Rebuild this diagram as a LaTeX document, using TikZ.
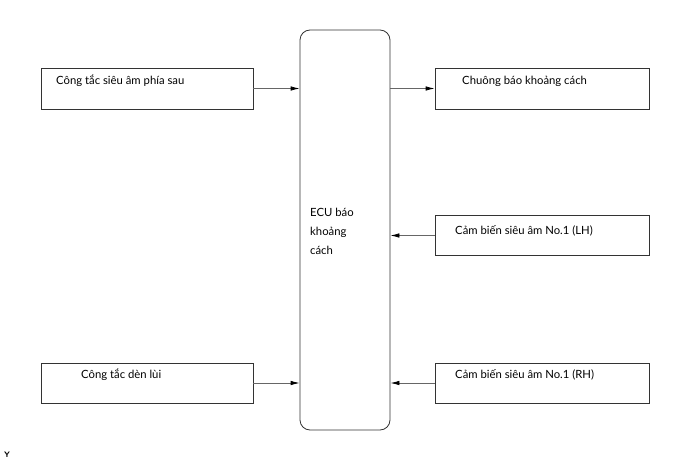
\documentclass[tikz,border=0pt]{standalone}
\usepackage{fontspec}
\setmainfont{Lato}
\usetikzlibrary{arrows.meta}
\begin{document}
\begin{tikzpicture}[x=1pt,y=-1pt,
  box/.style={draw=black!80,line width=0.8pt,minimum width=212pt,minimum height=40pt,inner sep=0pt},
  lbl/.style={anchor=west,inner sep=0pt,font=\fontsize{11.3}{12}\selectfont},
  conn/.style={draw=black!60,line width=0.8pt,-{Latex[length=9pt,width=4.5pt,color=black]}}]
\useasboundingbox (0,0) rectangle (690,465);
\node[box,minimum height=41pt] (b1) at (147,88.5) {};
\node[lbl] (t1) at (56,81) {Công tắc siêu âm phía sau};
\node[box,minimum width=214pt,minimum height=41pt] (b2) at (542,88.5) {};
\node[lbl] (t2) at (462,81) {Chuông báo khoảng cách};
\node[box,minimum width=214pt] (b3) at (542,235.5) {};
\node[lbl] (t3) at (455,231) {Cảm biến siêu âm No.1 (LH)};
\node[box,minimum width=214pt] (b4) at (542,383) {};
\node[lbl] (t4) at (455,375) {Cảm biến siêu âm No.1 (RH)};
\node[box] (b5) at (147,383) {};
\node[lbl] (t5) at (81,375) {Công tắc dèn lùi};
\node[draw=black!80,line width=0.8pt,rounded corners=10pt,minimum width=90pt,minimum height=400pt,inner sep=0pt] (ecu) at (345,230) {};
\node[lbl,align=left,font=\fontsize{11.3}{19}\selectfont] (tecu) at (310,231) {ECU báo\\khoảng\\cách};
\node[anchor=center,inner sep=0pt,font=\sffamily\bfseries\fontsize{8}{9}\selectfont] (y) at (7,455) {Y};
\draw[conn] (b1.east) -- (b1.east -| ecu.west);
\draw[conn] (b2.west -| ecu.east) -- (b2.west);
\draw[conn] (b3.west) -- (b3.west -| ecu.east);
\draw[conn] (b4.west) -- (b4.west -| ecu.east);
\draw[conn] (b5.east) -- (b5.east -| ecu.west);
\end{tikzpicture}
\end{document}
